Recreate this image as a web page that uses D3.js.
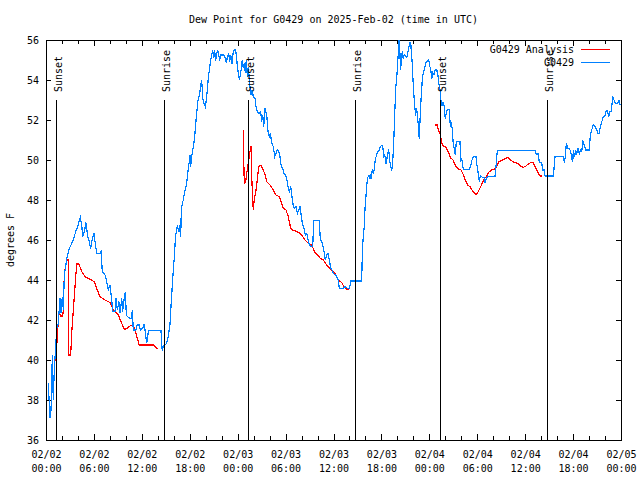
<!DOCTYPE html>
<html><head><meta charset="utf-8">
<script src="https://cdn.jsdelivr.net/npm/d3@7"></script>
<style>
body{margin:0;background:#fff;}
svg{display:block;background:#fff;}
text{font-family:"DejaVu Sans Mono","Liberation Mono",monospace;font-size:10px;fill:#000;}
</style></head><body>
<svg id="c" width="640" height="480"></svg>
<script>
const titleText = "Dew Point for G0429 on 2025-Feb-02 (time in UTC)";
const yLabel = "degrees F";
const startUTC = Date.UTC(2025, 1, 2, 0, 0);
const endUTC = Date.UTC(2025, 1, 5, 0, 0);
const yDomain = [36, 56];
const yTicks = [36, 38, 40, 42, 44, 46, 48, 50, 52, 54, 56];
const seriesNames = ["G0429 Analysis", "G0429"];
const seriesColors = ["#ff0000", "#0080ff"];
const sunLabels = ["Sunset", "Sunrise", "Sunset", "Sunrise", "Sunset", "Sunrise"];
const sunHours = [1.27, 14.83, 25.33, 38.75, 49.35, 62.77];

// observed (hours since 2025-02-02 00:00 UTC)
const obsHours = [0.29,0.50,0.63,0.79,0.91,1.04,1.16,1.34,1.54,1.75,1.88,2.04,2.17,2.29,2.47,2.59,2.92,3.22,3.42,3.72,3.97,4.17,4.30,4.47,4.60,4.80,5.01,5.22,5.42,5.60,5.76,6.01,6.17,6.35,6.76,6.89,7.05,7.39,7.60,7.80,8.01,8.23,8.35,8.64,8.77,8.93,9.14,9.27,9.48,9.60,9.77,9.93,10.06,10.18,10.52,10.71,10.81,10.93,11.27,11.40,11.68,11.81,12.11,12.27,12.40,12.61,12.73,12.81,14.40,14.49,14.56,14.69,14.90,15.11,15.31,15.53,15.65,15.82,15.94,16.07,16.19,16.28,16.44,16.65,16.78,16.87,16.94,17.07,17.19,17.32,17.44,17.62,17.74,17.91,18.03,18.12,18.24,18.37,18.49,18.62,18.75,18.87,19.00,19.12,19.25,19.37,19.50,19.62,19.78,19.95,20.07,20.20,20.32,20.45,20.57,20.70,20.87,21.00,21.12,21.25,21.37,21.50,21.63,21.75,21.88,22.29,22.45,22.58,22.70,22.88,23.00,23.13,23.29,23.42,23.58,23.75,23.83,23.95,24.08,24.21,24.33,24.46,24.58,24.71,24.83,24.96,25.08,25.21,25.33,25.54,25.67,25.80,25.96,26.17,26.30,26.46,26.67,26.88,27.01,27.14,27.26,27.42,27.64,27.80,27.96,28.09,28.21,28.34,28.46,28.64,28.80,28.96,29.14,29.30,29.46,29.64,29.80,29.97,30.14,30.30,30.47,30.64,30.80,30.97,31.14,31.31,31.47,31.64,31.81,31.97,32.14,32.31,32.47,32.65,32.81,32.97,33.15,33.40,33.52,34.22,34.35,34.52,34.65,34.81,34.97,35.15,35.31,35.48,35.65,35.81,35.98,36.23,36.40,36.60,36.73,37.23,37.44,37.78,37.98,38.19,39.53,39.61,39.73,39.86,39.94,40.07,40.23,40.36,40.48,40.61,40.73,40.86,40.98,41.11,41.23,41.36,41.49,41.66,41.82,41.99,42.16,42.29,42.41,42.58,42.74,42.91,43.04,43.16,43.29,43.41,43.54,43.66,43.79,43.91,44.04,44.17,44.24,44.39,44.62,44.74,44.87,45.17,45.42,45.54,45.67,45.74,45.87,45.99,46.17,46.29,46.37,46.49,46.62,46.74,46.87,46.99,47.12,47.25,47.42,47.58,47.75,47.92,48.05,48.17,48.30,48.42,48.59,48.75,48.92,49.09,49.21,49.34,49.46,49.59,49.71,49.88,50.00,50.13,50.25,50.50,50.63,50.75,50.88,51.00,51.13,51.25,51.38,51.84,51.93,52.05,52.25,53.01,53.18,53.34,53.51,53.84,54.01,54.13,54.26,54.38,54.68,54.85,54.97,55.10,55.26,56.22,56.35,56.51,61.23,61.36,61.65,61.77,62.07,62.20,62.36,62.49,63.53,63.74,64.78,64.90,65.03,65.15,65.33,65.53,65.70,65.83,65.96,66.03,66.20,66.33,66.45,66.62,66.78,66.91,67.08,67.24,67.41,67.58,68.03,68.16,68.33,68.53,68.78,68.96,69.12,69.29,69.41,69.54,69.66,69.78,69.96,70.12,70.29,70.46,70.62,70.79,70.96,71.13,71.29,71.59,71.75,71.88];
const obsValues = [38.85,37.08,37.5,40.25,38.0,39.5,40.33,41.58,41.83,43.08,42.33,43.17,42.5,44.25,44.67,45.08,45.58,45.83,46.0,46.42,46.67,47.0,47.13,46.75,46.17,46.42,46.87,46.17,45.92,45.58,46.0,46.33,45.83,45.33,45.33,45.42,44.42,44.25,43.92,43.5,43.75,43.0,42.42,42.42,43.08,42.5,42.92,42.33,43.08,42.42,43.0,43.42,42.25,42.17,42.08,42.08,42.5,41.5,41.5,41.75,41.75,41.5,41.58,41.8,41.5,40.83,41.08,41.47,41.47,40.83,40.47,40.7,40.75,40.83,41.17,41.8,42.67,43.75,44.5,45.17,46.0,46.33,46.67,46.42,46.75,46.17,47.5,47.83,48.0,48.33,48.5,48.83,49.33,49.83,50.25,49.67,50.17,50.5,50.75,51.17,51.83,52.33,52.92,53.08,53.33,53.75,54.0,53.08,52.83,52.67,53.0,53.5,54.08,54.5,54.83,55.17,55.5,55.08,55.5,54.97,55.33,55.5,55.25,54.97,55.25,55.25,55.08,54.83,55.13,55.3,54.92,55.25,54.8,55.33,55.5,55.5,55.25,54.75,54.33,54.03,54.25,54.58,55.0,54.58,54.83,54.33,55.0,54.17,54.67,53.67,53.25,53.5,53.17,53.08,52.67,52.42,52.33,52.42,51.92,52.25,51.67,52.58,52.25,51.42,51.17,51.33,51.0,50.75,50.67,50.17,50.33,50.5,50.42,50.17,49.67,49.58,49.33,49.25,49.08,48.67,48.42,48.67,48.17,47.67,47.58,47.67,47.33,47.5,47.67,47.17,46.75,46.58,46.25,46.33,46.0,45.75,45.67,45.67,46.97,46.97,46.0,45.92,45.75,45.42,45.0,45.25,45.33,45.0,44.58,44.5,44.33,44.25,44.17,44.0,43.58,43.58,43.67,43.58,43.58,43.95,43.95,45.37,46.2,46.7,47.53,48.2,49.03,49.2,49.12,49.28,49.03,49.53,49.37,49.53,50.03,50.2,50.37,50.45,50.62,50.73,50.7,50.2,50.28,49.78,50.2,50.53,49.95,49.7,49.45,49.87,50.87,52.2,53.62,54.03,54.87,55.7,56.2,54.5,55.45,55.03,55.28,55.12,55.62,55.87,55.87,55.45,54.78,53.7,52.7,52.2,52.62,52.37,51.7,51.03,52.37,53.2,54.03,54.37,54.62,54.87,54.95,55.03,54.7,54.53,54.03,54.37,54.28,54.53,54.53,54.2,53.78,53.5,52.95,52.7,52.87,52.7,52.03,52.37,52.53,52.53,51.67,51.92,51.5,50.75,50.58,50.25,50.92,50.92,49.92,50.08,49.53,49.53,49.7,50.0,50.17,50.17,49.58,49.33,48.92,49.2,49.13,49.13,48.87,49.03,49.17,49.17,49.7,50.47,50.47,50.3,50.3,49.87,49.87,49.5,49.5,49.2,49.2,50.17,50.17,49.87,50.17,50.83,50.58,50.58,50.42,50.08,49.92,50.5,50.17,50.5,50.33,50.58,50.33,50.5,50.42,50.92,50.75,50.5,50.5,51.25,51.5,51.75,51.67,51.5,51.33,51.33,51.67,51.83,52.0,52.17,52.17,52.42,52.47,52.17,52.42,52.42,53.17,53.0,52.83,52.83,53.0,52.75];

// analysis (null value = gap)
const anaHours = [1.04,1.16,1.25,1.42,1.50,1.67,1.79,2.09,2.17,2.29,2.59,2.79,2.84,3.09,3.22,3.42,3.63,3.84,4.13,4.47,4.88,5.51,6.05,6.35,6.76,7.39,8.01,8.43,9.05,9.48,9.80,10.11,10.52,10.93,11.14,11.36,11.68,13.44,13.86,14.06,
  20.0,
  24.71,24.75,24.83,25.01,25.13,25.26,25.38,25.54,25.67,25.76,25.88,25.96,26.09,26.30,26.46,26.64,26.92,27.21,27.51,27.64,28.05,28.46,28.80,29.21,29.43,29.72,30.05,30.34,30.64,30.89,31.39,31.81,32.02,32.43,32.85,33.27,33.68,33.97,34.31,34.72,35.15,35.78,36.19,36.60,37.03,37.32,37.65,37.98,
  43.0,
  48.71,49.00,49.12,49.34,49.46,49.59,49.75,50.05,50.25,50.46,50.68,50.93,51.13,51.34,51.55,51.75,51.97,52.18,52.38,52.59,52.81,53.09,53.34,53.59,53.81,54.01,54.26,54.56,54.85,55.18,55.51,55.81,56.10,56.35,56.51,56.72,57.14,57.60,57.85,58.10,58.44,58.77,59.14,59.44,59.77,60.11,60.39,60.69,61.02,61.23,61.44,61.65,61.86,62.15];
const anaValues = [39.3,40.3,40.1,41.2,41.7,42.5,42.2,42.2,42.5,44.3,45.0,45.0,40.25,40.25,41.33,42.5,43.67,44.8,44.8,44.42,44.17,44.03,43.92,43.58,43.17,43.0,42.88,42.5,42.25,41.83,41.53,41.58,41.7,41.75,41.5,41.17,40.75,40.75,40.58,40.58,
  null,
  51.5,50.17,48.83,48.9,49.33,49.67,50.0,50.42,50.7,49.17,48.0,47.5,48.08,48.5,49.0,49.67,49.75,49.5,49.17,48.92,48.75,48.5,48.25,48.17,47.92,47.58,47.5,47.17,46.58,46.5,46.42,46.33,46.25,46.0,45.83,45.75,45.37,45.28,45.1,45.0,44.75,44.5,44.33,44.0,43.87,43.67,43.53,43.5,
  null,
  51.75,51.75,51.5,51.33,51.08,50.83,50.7,50.67,50.5,50.33,50.08,50.03,49.83,49.67,49.58,49.53,49.5,49.33,49.13,48.92,48.75,48.67,48.5,48.37,48.28,48.33,48.53,48.78,49.03,49.2,49.42,49.5,49.53,49.63,49.75,49.92,50.0,50.08,50.13,50.03,49.92,49.87,49.8,49.7,49.63,49.7,49.8,49.87,49.87,49.67,49.5,49.33,49.2,49.2];

const W = 640, H = 480;
const m = {left: 46, right: 19, top: 40, bottom: 40};
const svg = d3.select("#c");
const toDate = h => new Date(startUTC + h * 3600e3);

const x = d3.scaleUtc().domain([new Date(startUTC), new Date(endUTC)]).range([m.left, W - m.right]);
const y = d3.scaleLinear().domain(yDomain).range([H - m.bottom, m.top]);

svg.append("defs").append("clipPath").attr("id", "clip")
  .append("rect").attr("x", m.left).attr("y", m.top)
  .attr("width", W - m.left - m.right).attr("height", H - m.top - m.bottom);

// title
svg.append("text").attr("x", (m.left + W - m.right) / 2).attr("y", 23)
  .attr("text-anchor", "middle").text(titleText);
// y label
svg.append("text").attr("transform", `translate(14,${(m.top + H - m.bottom) / 2}) rotate(-90)`)
  .attr("text-anchor", "middle").text(yLabel);

// axes
const majorTicks = d3.utcHour.every(6).range(new Date(startUTC), new Date(endUTC + 1));
const minorTicks = d3.utcHour.every(2).range(new Date(startUTC), new Date(endUTC + 1));
const fmtD = d3.utcFormat("%m/%d"), fmtT = d3.utcFormat("%H:%M");

function styleAxis(g) {
  g.select(".domain").remove();
  g.selectAll("line").attr("stroke", "#000").attr("shape-rendering", "crispEdges");
}

svg.append("g").attr("transform", `translate(0,${H - m.bottom})`)
  .call(d3.axisBottom(x).tickValues(minorTicks).tickSize(-4).tickFormat(""))
  .call(styleAxis);
const bx = svg.append("g").attr("transform", `translate(0,${H - m.bottom})`)
  .call(d3.axisBottom(x).tickValues(majorTicks).tickSize(-6).tickFormat(""))
  .call(styleAxis);
bx.selectAll(".tick").append("text")
  .attr("y", 18).attr("text-anchor", "middle")
  .each(function(d) {
    const t = d3.select(this);
    t.append("tspan").attr("x", 0).text(fmtD(d));
    t.append("tspan").attr("x", 0).attr("dy", 14).text(fmtT(d));
  });
svg.append("g").attr("transform", `translate(0,${m.top})`)
  .call(d3.axisTop(x).tickValues(minorTicks).tickSize(-4).tickFormat(""))
  .call(styleAxis);
svg.append("g").attr("transform", `translate(0,${m.top})`)
  .call(d3.axisTop(x).tickValues(majorTicks).tickSize(-6).tickFormat(""))
  .call(styleAxis);

const ly = svg.append("g").attr("transform", `translate(${m.left},0)`)
  .call(d3.axisLeft(y).tickValues(yTicks).tickSize(-5).tickPadding(7).tickFormat(d3.format("d")))
  .call(styleAxis);
ly.selectAll("text").attr("font-family", null).attr("font-size", null);
svg.append("g").attr("transform", `translate(${W - m.right},0)`)
  .call(d3.axisRight(y).tickValues(yTicks).tickSize(-5).tickFormat(""))
  .call(styleAxis);

// frame
svg.append("rect").attr("x", m.left + 0.5).attr("y", m.top + 0.5)
  .attr("width", W - m.left - m.right).attr("height", H - m.top - m.bottom)
  .attr("fill", "none").attr("stroke", "#000").attr("stroke-width", 1);

// data
const anaData = anaHours.map((h, i) => ({t: toDate(h), v: anaValues[i]}));
const obsData = obsHours.map((h, i) => ({t: toDate(h), v: obsValues[i]}));
const line = d3.line().defined(d => d.v != null).x(d => x(d.t)).y(d => y(d.v));
const plot = svg.append("g").attr("clip-path", "url(#clip)");
plot.append("path").datum(anaData).attr("d", line)
  .attr("fill", "none").attr("stroke", seriesColors[0]).attr("stroke-width", 1.2)
  .attr("shape-rendering", "crispEdges");
plot.append("path").datum(obsData).attr("d", line)
  .attr("fill", "none").attr("stroke", seriesColors[1]).attr("stroke-width", 1.2)
  .attr("shape-rendering", "crispEdges");

// sunrise / sunset markers
sunHours.forEach((h, i) => {
  const sx = Math.round(x(toDate(h))) + 0.5;
  svg.append("line").attr("x1", sx).attr("x2", sx).attr("y1", 100).attr("y2", H - m.bottom)
    .attr("stroke", "#000").attr("stroke-width", 1).attr("shape-rendering", "crispEdges");
  svg.append("text").attr("transform", `translate(${sx + 5},92) rotate(-90)`)
    .attr("text-anchor", "start").text(sunLabels[i]);
});

// legend
const legY = [49, 62];
seriesNames.forEach((n, i) => {
  svg.append("text").attr("x", 574).attr("y", legY[i] + 4).attr("text-anchor", "end").text(n);
  svg.append("line").attr("x1", 581).attr("x2", 610).attr("y1", legY[i] + 0.5).attr("y2", legY[i] + 0.5)
    .attr("stroke", seriesColors[i]).attr("stroke-width", 1.2).attr("shape-rendering", "crispEdges");
});
</script>
</body></html>
